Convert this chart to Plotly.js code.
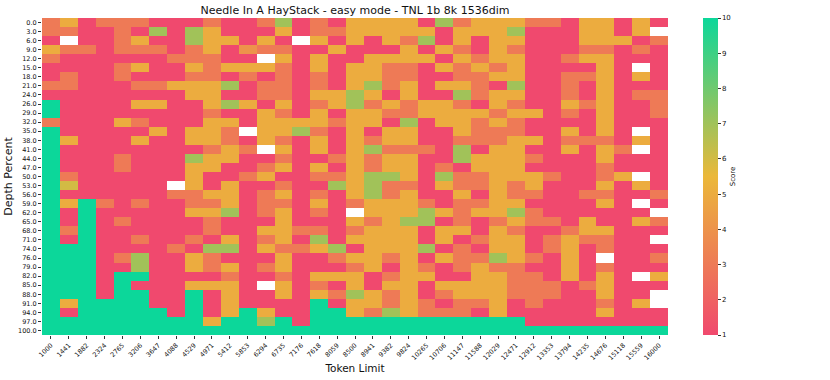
<!DOCTYPE html>
<html>
<head>
<meta charset="utf-8">
<script src="https://cdn.plot.ly/plotly-3.0.1.min.js"></script>
<style>
  html, body { margin: 0; padding: 0; background: #fff; }
  #chart { width: 830px; height: 380px; }
</style>
</head>
<body>
<div id="chart"></div>
<script>
// token limits (x) and depth percents (y)
const tokenLimits = ['1000', '1441', '1882', '2324', '2765', '3206', '3647', '4088', '4529', '4971',
  '5412', '5853', '6294', '6735', '7176', '7618', '8059', '8500', '8941', '9382', '9824', '10265',
  '10706', '11147', '11588', '12029', '12471', '12912', '13353', '13794', '14235', '14676', '15118',
  '15559', '16000'];

const depthPercents = ['0.0', '3.0', '6.0', '9.0', '12.0', '15.0', '18.0', '21.0', '24.0', '26.0',
  '29.0', '32.0', '35.0', '38.0', '41.0', '44.0', '47.0', '50.0', '53.0', '56.0', '59.0', '62.0',
  '65.0', '68.0', '71.0', '74.0', '76.0', '79.0', '82.0', '85.0', '88.0', '91.0', '94.0', '97.0',
  '100.0'];

// scores, one row per depth percent (null = no result)
const scores = [
  [3,5,1,3,3,3,1,1,1,3,1,1,3,7,1,3,1,5,5,5,5,1,7,3,5,5,5,3,3,1,5,5,1,5,1],
  [3,3,1,1,3,1,7,1,7,5,1,1,1,5,1,3,3,5,5,5,5,5,1,5,5,5,7,1,1,1,5,5,1,5,null],
  [1,null,1,1,3,5,1,1,7,5,5,1,5,1,null,5,1,5,1,5,3,7,1,5,1,5,5,1,1,1,5,5,5,1,3],
  [5,3,3,1,3,3,3,1,3,5,1,4,3,3,1,1,5,1,1,1,5,1,5,3,1,5,3,1,1,1,3,3,1,3,1],
  [3,1,1,1,1,1,1,3,3,3,1,1,null,5,1,5,1,1,5,5,5,5,1,5,3,5,5,1,1,3,5,5,1,1,1],
  [1,1,1,1,3,5,1,1,5,3,5,5,5,3,1,5,1,5,5,3,3,1,5,3,5,3,5,1,1,1,1,5,1,null,1],
  [1,3,1,1,3,1,1,1,3,3,1,3,1,3,1,3,1,5,5,3,3,1,1,3,3,5,5,1,1,3,3,5,1,5,1],
  [3,3,1,1,1,3,3,5,5,5,7,1,3,3,1,3,1,5,7,3,5,1,5,5,3,1,7,1,1,3,1,5,1,1,1],
  [1,1,1,1,1,1,1,1,5,5,1,1,3,3,1,5,5,7,5,1,5,1,1,7,3,5,5,1,1,3,1,5,1,3,3],
  [10,1,1,1,1,5,5,1,1,5,7,5,1,5,1,3,5,7,3,5,3,5,5,3,1,5,3,1,1,5,3,5,1,1,3],
  [10,1,1,1,1,1,1,1,1,3,1,1,5,3,1,5,1,5,5,3,3,5,5,5,5,3,5,5,1,3,1,5,1,1,3],
  [3,1,1,1,5,3,1,1,1,5,5,1,5,5,5,5,3,5,5,1,7,1,5,5,3,5,3,1,1,1,1,5,1,1,1],
  [10,1,1,1,1,1,5,1,5,5,3,null,5,5,7,3,1,5,1,5,5,1,1,5,3,3,3,1,1,5,1,5,1,null,1],
  [10,5,1,1,1,5,1,1,5,5,3,1,5,3,1,5,1,5,3,5,5,1,1,3,3,3,5,5,1,3,3,3,1,5,1],
  [10,1,1,1,1,1,1,1,1,3,5,3,null,5,1,5,1,5,7,3,3,3,1,7,1,5,5,1,1,5,1,5,3,null,1],
  [10,1,1,1,3,1,1,1,7,5,5,1,1,3,1,1,3,5,3,5,5,1,1,7,5,5,5,3,1,1,1,5,1,1,1],
  [10,1,1,1,3,1,1,1,5,5,1,1,3,5,1,5,1,5,3,5,5,1,3,1,5,5,5,1,1,1,1,3,1,1,1],
  [10,3,1,1,1,1,1,1,5,1,1,3,5,1,1,3,3,5,7,7,5,1,7,3,3,5,5,5,3,1,1,3,5,null,1],
  [10,6,1,1,1,1,1,null,5,1,5,1,1,3,1,1,7,5,7,3,3,1,5,3,3,5,3,5,1,1,1,5,1,5,1],
  [10,1,1,1,1,1,1,3,3,5,5,1,3,5,1,3,1,5,7,3,5,1,1,5,1,5,3,3,1,1,3,3,1,1,3],
  [10,5,10,3,1,3,1,1,3,3,5,1,3,3,1,5,1,3,5,5,5,3,1,3,3,5,5,1,1,1,1,5,1,null,1],
  [10,1,10,1,1,1,1,1,5,5,7,1,3,5,1,3,1,null,5,5,5,7,5,3,5,5,7,3,1,1,1,1,1,1,null],
  [10,1,10,1,3,1,1,1,1,3,1,1,1,5,1,1,1,5,3,5,7,7,1,3,1,3,5,3,3,1,5,1,1,5,3],
  [10,3,10,1,1,1,1,1,1,3,1,1,5,5,3,3,1,3,5,5,5,1,5,5,1,5,3,1,1,3,5,5,1,1,1],
  [10,1,10,1,1,3,1,1,3,1,5,1,3,5,1,7,1,5,5,5,5,1,5,1,3,5,5,1,3,5,3,3,1,1,null],
  [10,10,10,1,1,1,1,3,1,7,7,1,5,3,3,5,7,1,5,5,5,7,1,3,1,5,5,1,3,5,1,3,1,1,1],
  [10,10,10,1,3,7,1,1,5,3,1,1,1,5,1,1,3,5,5,3,5,1,5,3,3,7,5,3,1,5,1,null,1,1,3],
  [10,10,10,1,1,7,1,1,5,3,5,1,3,5,1,1,1,3,5,1,5,3,1,3,5,3,3,1,1,5,1,3,1,1,1],
  [10,10,10,1,10,10,1,1,1,1,3,1,1,3,1,5,5,5,1,3,5,5,1,1,5,5,3,3,1,5,1,5,1,null,5],
  [10,10,10,1,10,1,1,1,5,5,5,1,null,5,1,3,1,5,1,5,5,1,5,5,5,5,3,3,3,1,3,5,1,1,1],
  [10,10,10,1,10,10,1,1,10,1,5,1,1,5,1,5,3,7,5,3,5,1,3,5,5,5,3,3,3,1,1,5,1,1,null],
  [10,5,10,10,10,10,1,1,10,1,5,1,1,1,1,10,1,5,5,3,5,3,1,3,3,5,1,3,1,1,1,3,1,5,null],
  [10,1,10,10,10,10,10,1,10,1,5,10,5,1,1,10,10,5,3,7,5,3,3,3,1,5,1,1,1,1,1,5,1,1,1],
  [10,10,10,10,10,10,10,10,10,5,10,10,7,10,1,10,10,10,10,10,10,10,10,10,10,10,10,1,1,1,1,1,1,1,1],
  [10,10,10,10,10,10,10,10,10,10,10,10,10,10,10,10,10,10,10,10,10,10,10,10,10,10,10,10,10,10,10,10,10,10,10]
];

const scoreTicks = [1, 2, 3, 4, 5, 6, 7, 8, 9, 10];

const trace = {
  type: 'heatmap',
  x: tokenLimits,
  y: depthPercents,
  z: scores,
  zmin: 1,
  zmax: 10,
  colorscale: [[0, '#F0496E'], [0.5, '#EBB839'], [1, '#0CD79A']],
  hoverongaps: false,
  colorbar: {
    thickness: 15,
    len: 1,
    y: 0.5,
    ypad: 0,
    x: 1.04,
    xanchor: 'left',
    outlinewidth: 0,
    tickvals: scoreTicks,
    ticks: 'outside',
    ticklen: 3,
    tickcolor: '#333',
    tickfont: {size: 7, color: '#111'},
    title: {text: 'Score', side: 'right', font: {size: 7, color: '#111'}}
  }
};

const layout = {
  width: 830,
  height: 380,
  margin: {l: 42, r: 162, t: 18, b: 45},
  paper_bgcolor: '#fff',
  plot_bgcolor: '#fff',
  font: {family: 'DejaVu Sans, sans-serif', color: '#111'},
  title: {
    text: 'Needle In A HayStack - easy mode - TNL 1b 8k 1536dim',
    font: {size: 11, color: '#111'},
    x: 0.5, xref: 'paper',
    y: 0.974, yref: 'container', yanchor: 'middle'
  },
  xaxis: {
    type: 'category',
    tickangle: -45,
    ticks: 'outside',
    ticklen: 3,
    tickcolor: '#333',
    tickfont: {size: 6.5},
    showgrid: false,
    zeroline: false,
    title: {text: 'Token Limit', font: {size: 10.5, color: '#111'}, standoff: 3}
  },
  yaxis: {
    type: 'category',
    autorange: 'reversed',
    ticks: 'outside',
    ticklen: 3,
    tickcolor: '#333',
    tickfont: {size: 6.5},
    showgrid: false,
    zeroline: false,
    title: {text: 'Depth Percent', font: {size: 11, color: '#111'}, standoff: 3}
  }
};

Plotly.newPlot('chart', [trace], layout, {displayModeBar: false, staticPlot: true});
</script>
</body>
</html>
